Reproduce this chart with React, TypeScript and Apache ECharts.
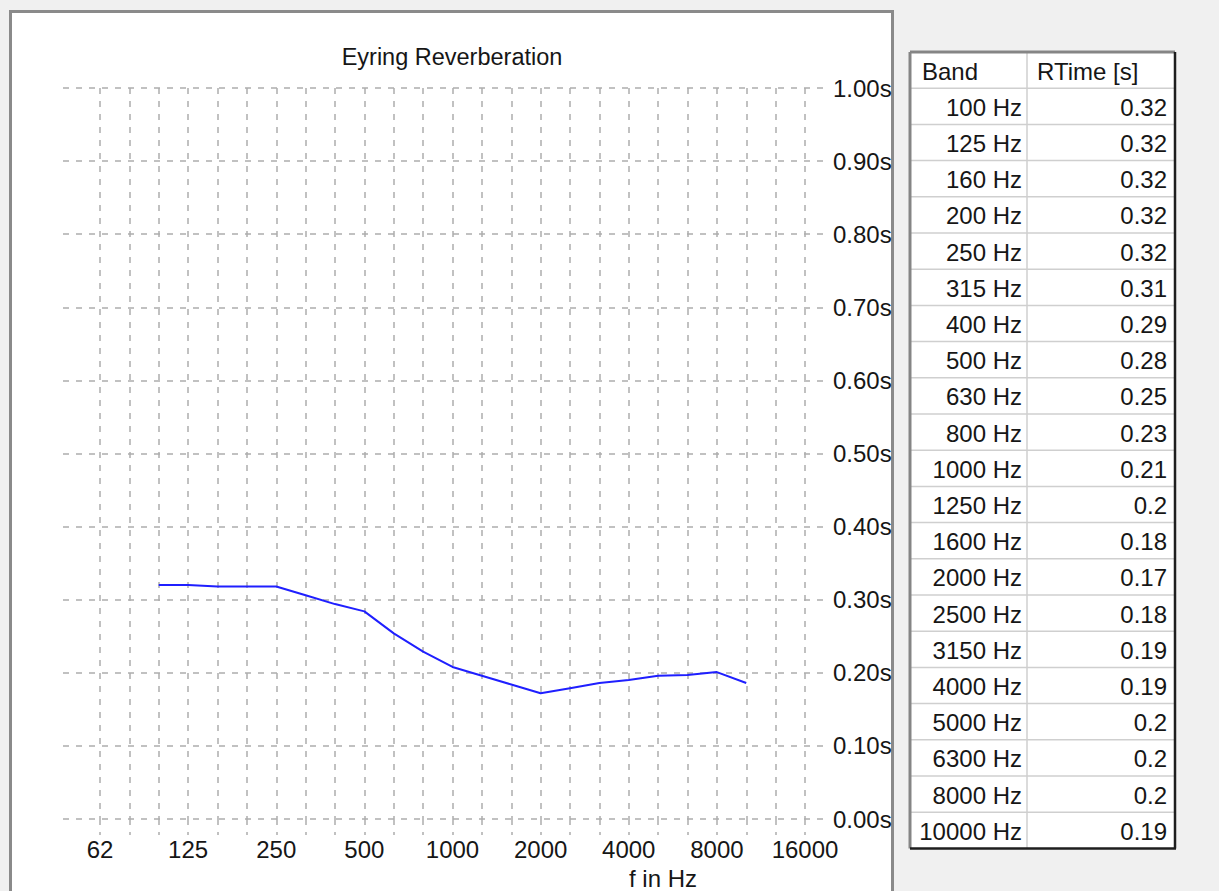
import React, { useEffect, useRef } from "react";
import * as echarts from "echarts";

// ---- data ----
const bandFreqs = [100, 125, 160, 200, 250, 315, 400, 500, 630, 800, 1000, 1250, 1600, 2000, 2500, 3150, 4000, 5000, 6300, 8000, 10000];
const rtValues = [0.32, 0.32, 0.318, 0.318, 0.318, 0.306, 0.294, 0.284, 0.254, 0.229, 0.208, 0.196, 0.184, 0.172, 0.179, 0.186, 0.19, 0.196, 0.197, 0.201, 0.186];
const xTickLabels = ["62", "125", "250", "500", "1000", "2000", "4000", "8000", "16000"];
const titleText = "Eyring Reverberation";
const xAxisTitle = "f in Hz";
const tableHeaders = ["Band", "RTime [s]"];

const FONT = "'Liberation Sans', Arial, sans-serif";
const TEXT_COLOR = "#161616";
const GRID_COLOR = "#adadad";
const DASH = [6, 7];

// third-octave index relative to 62.5 Hz
const bandIndex = (f: number) => Math.round(3 * Math.log2(f / 62.5));

function buildTable() {
  const x0 = 910, x1 = 1175, xc = 1027, y0 = 52, rowH = 36.2;
  const rows = bandFreqs.length + 1;
  const y1 = y0 + rows * rowH;
  const children: any[] = [];
  children.push({ type: "rect", shape: { x: x0, y: y0, width: x1 - x0, height: y1 - y0 }, style: { fill: "#ffffff" } });
  for (let r = 1; r < rows; r++) {
    const y = y0 + r * rowH;
    children.push({ type: "line", shape: { x1: x0, y1: y, x2: x1, y2: y }, style: { stroke: "#cfcfcf", lineWidth: 1.5 } });
  }
  children.push({ type: "line", shape: { x1: xc, y1: y0, x2: xc, y2: y1 }, style: { stroke: "#cfcfcf", lineWidth: 1.5 } });
  // borders
  children.push({ type: "line", shape: { x1: x0, y1: y0, x2: x1, y2: y0 }, style: { stroke: "#858585", lineWidth: 3 } });
  children.push({ type: "line", shape: { x1: x0, y1: y0, x2: x0, y2: y1 }, style: { stroke: "#858585", lineWidth: 3 } });
  children.push({ type: "line", shape: { x1: x0, y1: y1, x2: x1 + 1, y2: y1 }, style: { stroke: "#1e1e1e", lineWidth: 2.5 } });
  children.push({ type: "line", shape: { x1: x1, y1: y0, x2: x1, y2: y1 }, style: { stroke: "#1e1e1e", lineWidth: 2.5 } });
  const font = `24px ${FONT}`;
  children.push({ type: "text", x: 922, y: y0 + rowH / 2 + 1, style: { text: tableHeaders[0], font, fill: TEXT_COLOR, align: "left", verticalAlign: "middle" } });
  children.push({ type: "text", x: 1037, y: y0 + rowH / 2 + 1, style: { text: tableHeaders[1], font, fill: TEXT_COLOR, align: "left", verticalAlign: "middle" } });
  bandFreqs.forEach((f, i) => {
    const yc = y0 + (i + 1.5) * rowH + 1;
    children.push({ type: "text", x: 1022, y: yc, style: { text: `${f} Hz`, font, fill: TEXT_COLOR, align: "right", verticalAlign: "middle" } });
    children.push({ type: "text", x: 1167, y: yc, style: { text: String(parseFloat(rtValues[i].toFixed(2))), font, fill: TEXT_COLOR, align: "right", verticalAlign: "middle" } });
  });
  return { type: "group", z: 100, children };
}

export default function App() {
  const ref = useRef<HTMLDivElement>(null);
  useEffect(() => {
    if (!ref.current) return;
    const chart = echarts.init(ref.current, undefined, { renderer: "svg" });
    const option: any = {
      animation: false,
      backgroundColor: "transparent",
      title: {
        text: titleText,
        left: 447,
        top: 40,
        textAlign: "center",
        textStyle: { fontFamily: FONT, fontSize: 23.5, fontWeight: "normal", color: TEXT_COLOR },
      },
      grid: [
        { left: 100, right: 414, top: 88, bottom: 72 },
        { left: 63, right: 391, top: 88, bottom: 72 },
      ],
      xAxis: [
        {
          type: "value",
          gridIndex: 0,
          min: 0,
          max: 24,
          interval: 1,
          axisLine: { show: false },
          axisTick: { show: true, length: 16, lineStyle: { color: GRID_COLOR, width: 1.5, type: DASH } },
          splitLine: { show: true, lineStyle: { color: GRID_COLOR, width: 1.5, type: DASH } },
          axisLabel: {
            show: true,
            margin: 18,
            fontFamily: FONT,
            fontSize: 24,
            color: TEXT_COLOR,
            formatter: (v: number) => (Math.round(v) % 3 === 0 ? xTickLabels[Math.round(v) / 3] : ""),
          },
        },
        { type: "value", gridIndex: 1, min: 0, max: 1, show: false },
      ],
      yAxis: [
        { type: "value", gridIndex: 0, min: 0, max: 1, show: false },
        {
          type: "value",
          gridIndex: 1,
          position: "right",
          min: 0,
          max: 1,
          interval: 0.1,
          axisLine: { show: false },
          axisTick: { show: false },
          splitLine: { show: true, lineStyle: { color: GRID_COLOR, width: 1.5, type: DASH } },
          axisLabel: {
            margin: 5,
            fontFamily: FONT,
            fontSize: 24,
            color: TEXT_COLOR,
            formatter: (v: number) => v.toFixed(2) + "s",
          },
        },
      ],
      series: [
        {
          type: "line",
          xAxisIndex: 0,
          yAxisIndex: 0,
          showSymbol: false,
          symbol: "none",
          lineStyle: { color: "#1f1fff", width: 2 },
          data: bandFreqs.map((f, i) => [bandIndex(f), rtValues[i]]),
          z: 5,
        },
      ],
      graphic: [
        {
          type: "text",
          x: 663,
          y: 878,
          style: { text: xAxisTitle, font: `24px ${FONT}`, fill: TEXT_COLOR, align: "center", verticalAlign: "middle" },
        },
        buildTable(),
      ],
    };
    chart.setOption(option);
    return () => chart.dispose();
  }, []);

  return (
    <div style={{ position: "fixed", left: 0, top: 0, width: 1219, height: 891, background: "#f0f0f0", overflow: "hidden" }}>
      <div
        style={{
          position: "absolute",
          left: 9,
          top: 10,
          width: 885,
          height: 900,
          boxSizing: "border-box",
          background: "#ffffff",
          border: "3px solid #8a8a8a",
        }}
      />
      <div ref={ref} style={{ position: "absolute", left: 0, top: 0, width: 1219, height: 891 }} />
    </div>
  );
}
